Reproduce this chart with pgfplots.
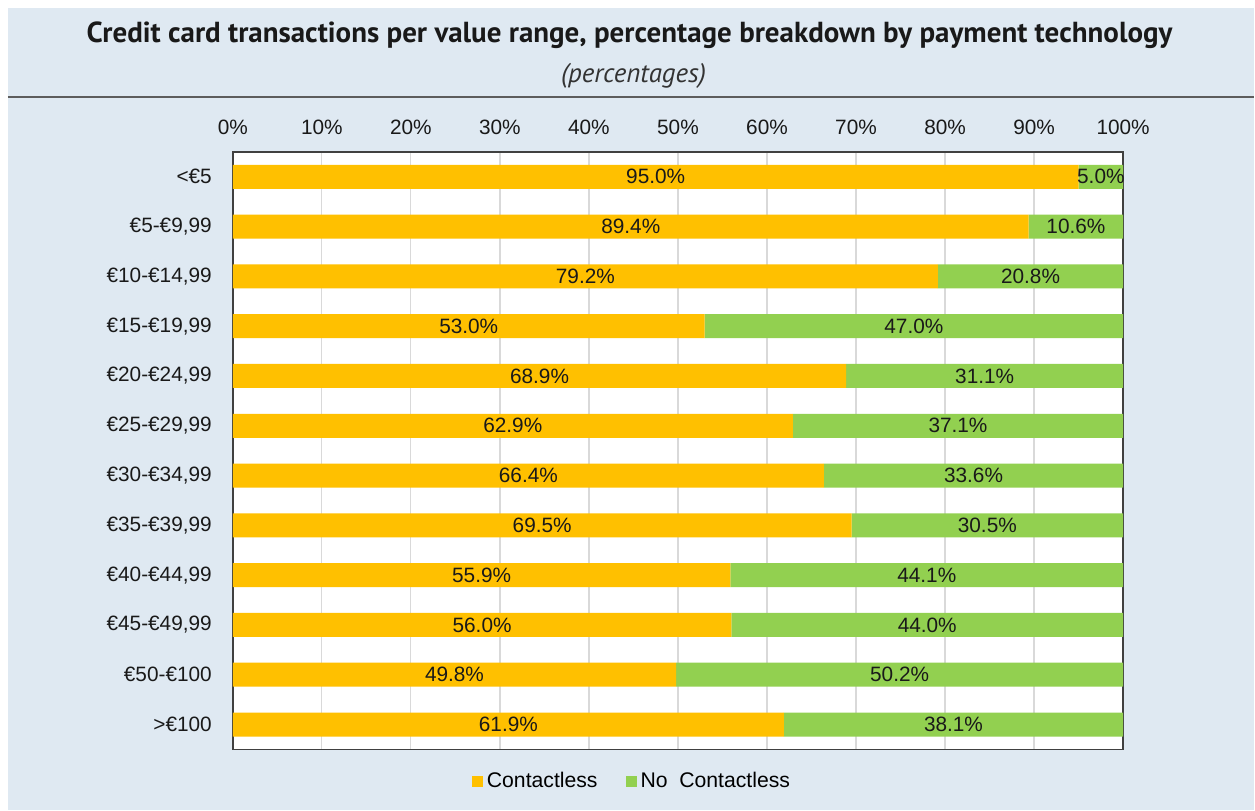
\documentclass[border=0pt]{standalone}
\usepackage{pgfplots}
\pgfplotsset{compat=1.18}
\usepackage{fontspec}
\setmainfont{Liberation Sans}
\newfontfamily\titlefont{PT Sans}
\definecolor{bg}{HTML}{DFE9F2}
\definecolor{cOrange}{HTML}{FFC000}
\definecolor{cGreen}{HTML}{92D050}
\definecolor{gridc}{HTML}{D9D9D9}
\definecolor{axc}{HTML}{404040}
\begin{document}
\begin{tikzpicture}
\fill[white] (-116.5pt,-30.5pt) rectangle (511pt,375pt);
\fill[bg] (-112.5pt,-30.5pt) rectangle (511pt,371pt);
\draw[line width=1pt, color=axc!85] (-112.5pt,326.5pt) -- (511pt,326.5pt);
\node[font=\titlefont\bfseries\fontsize{14.5}{17}\selectfont, text=black!90] at (198.5pt,357.5pt) {Credit card transactions per value range, percentage breakdown by payment technology};
\node[font=\titlefont\itshape\fontsize{13.5}{16}\selectfont, text=black!80] at (200.5pt,337pt) {(percentages)};
\begin{axis}[
  at={(0pt,0pt)}, anchor=south west,
  scale only axis, width=445.5pt, height=299pt,
  xbar stacked, bar width=12pt,
  xmin=0, xmax=100, ymin=-0.5, ymax=11.5, y dir=reverse,
  xtick={0,10,...,100},
  xticklabels={0\%,10\%,20\%,30\%,40\%,50\%,60\%,70\%,80\%,90\%,100\%},
  xticklabel pos=upper,
  ytick={0,...,11},
  yticklabels={<€5,{€5-€9,99},{€10-€14,99},{€15-€19,99},{€20-€24,99},{€25-€29,99},{€30-€34,99},{€35-€39,99},{€40-€44,99},{€45-€49,99},€50-€100,>€100},
  major tick length=0pt,
  xmajorgrids, grid style={gridc, line width=0.6pt},
  axis line style={axc, line width=0.7pt},
  axis background/.style={fill=white},
  tick label style={font=\fontsize{10.4}{12}\selectfont, text=black!90},
  xticklabel style={yshift=5pt},
  yticklabel style={xshift=-7pt},
  /pgf/number format/assume math mode=true,
  point meta=explicit,
  nodes near coords={\pgfmathprintnumber[fixed,fixed zerofill,precision=1,assume math mode=true]{\pgfplotspointmeta}\%},
  every node near coord/.style={anchor=center, font=\fontsize{10.4}{12}\selectfont, text=black!90, inner sep=0pt},
  legend style={at={(0.4495,-0.0535)}, anchor=center, draw=none, fill=none, legend columns=2, font=\fontsize{10.6}{12}\selectfont, /tikz/every even column/.append style={column sep=12pt}, inner sep=0pt},
  legend image code/.code={\draw[#1,draw=none] (0pt,-2.75pt) rectangle (5.5pt,2.75pt);},
]
\addplot[fill=cOrange, draw=none] coordinates {
(95.0,0) [95.0]
(89.4,1) [89.4]
(79.2,2) [79.2]
(53.0,3) [53.0]
(68.9,4) [68.9]
(62.9,5) [62.9]
(66.4,6) [66.4]
(69.5,7) [69.5]
(55.9,8) [55.9]
(56.0,9) [56.0]
(49.8,10) [49.8]
(61.9,11) [61.9]
};
\addlegendentry{Contactless}
\addplot[fill=cGreen, draw=none] coordinates {
(5.0,0) [5.0]
(10.6,1) [10.6]
(20.8,2) [20.8]
(47.0,3) [47.0]
(31.1,4) [31.1]
(37.1,5) [37.1]
(33.6,6) [33.6]
(30.5,7) [30.5]
(44.1,8) [44.1]
(44.0,9) [44.0]
(50.2,10) [50.2]
(38.1,11) [38.1]
};
\addlegendentry{No\ \ Contactless}
\end{axis}
\end{tikzpicture}
\end{document}
